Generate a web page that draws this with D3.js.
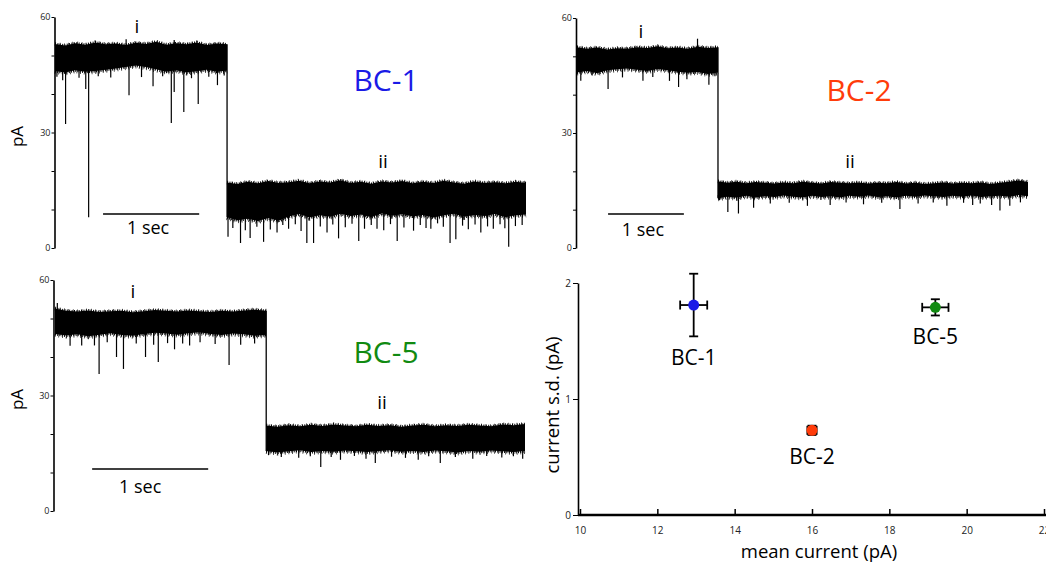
<!DOCTYPE html>
<html>
<head>
<meta charset="utf-8">
<script src="https://cdn.jsdelivr.net/npm/d3@7/dist/d3.min.js"></script>
<style>
  body { margin: 0; background: #fff; }
  svg { display: block; font-family: "Open Sans", sans-serif; }
</style>
</head>
<body>
<svg width="1046" height="563"></svg>
<script>
const svg_width = 1046;
const svg_height = 563;

// y ticks of the current traces (pA)
const pa_ticks = [0, 10, 20, 30, 40, 50, 60];
const pa_labels = [0, 30, 60];

// BC-1 trace, times in sec, currents in pA (upper / lower edge of the noise band)
const bc1_duration = 4.9;
const bc1_step = 1.79;
const bc1_high_i = [53.0, 52.6, 53.2, 52.8, 53.4, 52.9, 53.1, 52.7, 53.3, 53.0, 53.6, 52.8, 53.2, 52.9, 53.4, 52.7, 53.1, 52.9];
const bc1_low_i = [46.0, 45.6, 46.2, 45.8, 46.0, 46.3, 46.6, 47.0, 47.4, 47.0, 46.4, 45.8, 46.2, 45.6, 45.9, 46.3, 45.8, 46.1];
const bc1_high_ii = [17.0, 16.6, 17.2, 16.8, 17.4, 16.9, 17.1, 17.5, 16.8, 17.3, 17.0, 17.6, 16.9, 17.2, 16.7, 17.3, 17.0, 17.4, 16.8, 17.2, 16.9, 17.5, 17.0, 16.7, 17.3, 16.9, 17.1, 16.8, 17.2, 16.9];
const bc1_low_ii = [8.0, 7.2, 7.6, 7.0, 7.8, 7.1, 8.2, 8.8, 7.9, 8.5, 8.1, 8.9, 8.3, 8.7, 8.0, 9.0, 8.4, 8.8, 8.2, 8.6, 7.9, 8.5, 8.9, 8.1, 8.6, 8.3, 8.8, 8.0, 8.5, 8.7];
const bc1_spikes = [[0.02, 44.5], [0.08, 43.6], [0.11, 32.2], [0.25, 44.2], [0.32, 41.3], [0.35, 8.0], [0.45, 44.6], [0.58, 44.3], [0.77, 39.7], [0.9, 44.4], [1.02, 42.0], [1.12, 44.6], [1.21, 32.5], [1.24, 40.5], [1.34, 35.3], [1.42, 44.1], [1.49, 37.4], [1.6, 44.5], [1.69, 42.3], [1.76, 44.8],
  [1.80, 2.9], [1.85, 5.2], [1.93, 1.3], [1.98, 4.6], [2.03, 2.6], [2.1, 5.5], [2.17, 1.6], [2.24, 4.8], [2.31, 4.0], [2.37, 6.0], [2.43, 5.0], [2.5, 6.2], [2.56, 4.4], [2.62, 1.3], [2.69, 1.3], [2.76, 5.6], [2.83, 4.0], [2.89, 6.1], [2.95, 2.5], [3.02, 5.4], [3.09, 6.3], [3.16, 1.8], [3.22, 5.0], [3.29, 6.0], [3.35, 5.0], [3.42, 4.6], [3.49, 6.2], [3.56, 1.8], [3.63, 5.3], [3.73, 4.5], [3.8, 6.0], [3.86, 5.2], [3.91, 5.0], [3.98, 6.4], [4.04, 5.5], [4.11, 1.3], [4.17, 2.3], [4.24, 5.8], [4.3, 4.9], [4.37, 6.1], [4.43, 4.0], [4.5, 5.6], [4.56, 5.0], [4.63, 6.2], [4.68, 5.1], [4.72, 0.3], [4.79, 5.7], [4.86, 6.0]];
const bc1_peaks = [[0.74, 54.2], [1.24, 54.0]];

// BC-2 trace
const bc2_duration = 5.95;
const bc2_step = 1.86;
const bc2_high_i = [52.4, 52.0, 52.3, 51.8, 52.1, 52.0, 52.4, 52.2, 52.6, 52.1, 52.3, 52.0, 52.5, 52.2, 52.4];
const bc2_low_i = [45.8, 46.2, 45.6, 46.4, 46.6, 46.8, 46.5, 46.2, 46.7, 46.4, 46.0, 45.7, 45.9, 45.4, 45.8];
const bc2_high_ii = [17.4, 17.0, 17.3, 16.9, 17.2, 17.0, 16.8, 17.1, 16.9, 17.3, 17.0, 16.8, 17.2, 17.0, 16.9, 17.1, 16.8, 17.0, 16.9, 17.2, 16.8, 17.0, 16.7, 16.9, 17.1, 16.8, 17.0, 16.9, 17.1, 16.7, 17.0, 17.3, 17.6, 17.2];
const bc2_low_ii = [13.0, 13.4, 13.1, 13.6, 13.2, 13.5, 13.3, 13.7, 13.4, 13.2, 13.6, 13.3, 13.5, 13.2, 13.6, 13.4, 13.7, 13.3, 13.5, 13.2, 13.6, 13.4, 13.7, 13.5, 13.3, 13.6, 13.4, 13.7, 13.3, 13.5, 13.6, 13.4, 13.8, 13.5];
const bc2_spikes = [[0.05, 43.6], [0.2, 45.0], [0.41, 41.5], [0.6, 44.5], [0.87, 43.6], [1.0, 44.6], [1.22, 43.6], [1.34, 42.0], [1.45, 44.0], [1.74, 42.6], [1.82, 44.8],
  [1.88, 12.5], [1.99, 9.4], [2.13, 9.0], [2.33, 10.5], [2.55, 11.6], [2.8, 11.8], [3.04, 11.0], [3.34, 11.2], [3.55, 11.9], [3.78, 11.4], [4.02, 11.8], [4.26, 10.2], [4.5, 11.6], [4.7, 11.9], [4.88, 11.0], [5.1, 11.8], [5.22, 11.2], [5.32, 11.6], [5.47, 11.2], [5.58, 9.8], [5.71, 11.0], [5.85, 11.9]];
const bc2_peaks = [[1.59, 54.6]];

// BC-5 trace
const bc5_duration = 4.05;
const bc5_step = 1.82;
const bc5_high_i = [52.6, 52.0, 51.8, 52.1, 51.7, 51.9, 52.0, 51.6, 51.9, 52.2, 52.0, 51.8, 52.1, 51.9, 51.7, 52.0, 51.8, 52.1, 52.3, 52.0];
const bc5_low_i = [46.0, 45.6, 45.9, 45.4, 45.8, 46.2, 45.7, 45.5, 46.0, 46.3, 46.1, 45.8, 46.2, 46.4, 46.0, 45.7, 46.1, 45.9, 45.5, 45.8];
const bc5_high_ii = [22.2, 21.9, 22.3, 22.0, 22.4, 22.1, 22.5, 22.2, 22.0, 22.4, 22.1, 22.3, 21.9, 22.2, 22.4, 22.0, 22.3, 22.1, 22.4, 22.2, 22.0, 22.5, 22.3, 22.6];
const bc5_low_ii = [15.6, 15.2, 15.5, 15.8, 15.3, 15.6, 15.4, 15.7, 15.5, 15.3, 15.6, 15.8, 15.4, 15.6, 15.3, 15.7, 15.5, 15.2, 15.6, 15.4, 15.7, 15.5, 15.3, 15.6];
const bc5_spikes = [[0.13, 42.9], [0.23, 43.0], [0.34, 43.0], [0.38, 35.6], [0.45, 43.8], [0.53, 40.0], [0.59, 36.9], [0.70, 43.5], [0.78, 40.0], [0.85, 43.2], [0.89, 38.7], [0.97, 43.6], [1.03, 42.0], [1.1, 43.5], [1.16, 43.0], [1.25, 43.8], [1.38, 43.4], [1.5, 37.9], [1.6, 43.2], [1.72, 43.5],
  [1.84, 14.5], [1.95, 14.0], [2.1, 13.8], [2.2, 14.2], [2.29, 11.4], [2.38, 14.0], [2.46, 13.3], [2.58, 14.3], [2.68, 13.6], [2.76, 12.5], [2.9, 14.1], [3.02, 13.8], [3.13, 13.3], [3.22, 14.2], [3.32, 12.5], [3.45, 14.0], [3.6, 13.6], [3.72, 14.3], [3.85, 13.9], [3.95, 14.2], [4.03, 13.6]];
const bc5_peaks = [[0.02, 54.0]];

// summary: mean current vs current s.d.
const cell_names = ["BC-1", "BC-2", "BC-5"];
const cell_colors = ["#1a1ae6", "#ff3c0a", "#118a11"];
const mean_current = [12.94, 16.0, 19.19];
const mean_current_err = [0.35, 0.12, 0.34];
const current_sd = [1.81, 0.73, 1.79];
const current_sd_err = [0.27, 0.04, 0.07];
const mean_ticks = [10, 12, 14, 16, 18, 20, 22];
const sd_ticks = [0, 1, 2];

const svg = d3.select("svg");

function makeSegment(high, low, t0, t1) {
  return high.map((h, k) => ({ t: t0 + (t1 - t0) * k / (high.length - 1), hi: h, lo: low[k] }));
}

// layout of the three trace panels
const panels = [
  { trace: { duration: bc1_duration, step: bc1_step, hi_i: bc1_high_i, lo_i: bc1_low_i, hi_ii: bc1_high_ii, lo_ii: bc1_low_ii, spikes: bc1_spikes, peaks: bc1_peaks },
    name: cell_names[0], color: cell_colors[0], axis_x: 54.5, x0: 55, x1: 526, top: 17, bottom: 248,
    bar_y: 214, bar_start: 0.5, sec_dx: -3, sec_y: 234, pa: true, i_pos: [137, 33], ii_pos: [383, 168], name_pos: [386, 91] },
  { trace: { duration: bc2_duration, step: bc2_step, hi_i: bc2_high_i, lo_i: bc2_low_i, hi_ii: bc2_high_ii, lo_ii: bc2_low_ii, spikes: bc2_spikes, peaks: bc2_peaks },
    name: cell_names[1], color: cell_colors[1], axis_x: 576, x0: 577, x1: 1028, top: 18, bottom: 248,
    bar_y: 214, bar_start: 0.41, sec_dx: -3, sec_y: 236, pa: false, i_pos: [641, 38], ii_pos: [850, 168], name_pos: [859, 101] },
  { trace: { duration: bc5_duration, step: bc5_step, hi_i: bc5_high_i, lo_i: bc5_low_i, hi_ii: bc5_high_ii, lo_ii: bc5_low_ii, spikes: bc5_spikes, peaks: bc5_peaks },
    name: cell_names[2], color: cell_colors[2], axis_x: 53.5, x0: 55, x1: 525, top: 280, bottom: 511,
    bar_y: 469, bar_start: 0.32, sec_dx: -10, sec_y: 493, pa: true, i_pos: [133, 298], ii_pos: [382, 409], name_pos: [386, 363] }
];

panels.forEach(p => drawTrace(p));
drawSummary();

function drawTrace(p) {
  const tr = p.trace;
  const g = svg.append("g");
  const x = d3.scaleLinear().domain([0, tr.duration]).range([p.x0, p.x1]);
  const y = d3.scaleLinear().domain([0, 60]).range([p.bottom, p.top]);

  const seg_i = makeSegment(tr.hi_i, tr.lo_i, 0, tr.step);
  const seg_ii = makeSegment(tr.hi_ii, tr.lo_ii, tr.step, tr.duration);

  const band = d3.area().x(d => x(d.t)).y0(d => y(d.lo)).y1(d => y(d.hi));
  g.selectAll(".band").data([seg_i, seg_ii]).join("path")
    .attr("class", "band")
    .attr("d", band)
    .attr("fill", "#000");

  // hairy edges of the noise band: short dashes along the envelope
  const top_edge = d3.line().x(d => x(d.t)).y(d => y(d.hi));
  const bottom_edge = d3.line().x(d => x(d.t)).y(d => y(d.lo));
  [seg_i, seg_ii].forEach(seg => {
    g.append("path").attr("d", top_edge(seg)).attr("fill", "none")
      .attr("stroke", "#000").attr("stroke-width", 2.6).attr("stroke-dasharray", "1 1.4");
    g.append("path").attr("d", top_edge(seg)).attr("fill", "none")
      .attr("stroke", "#000").attr("stroke-width", 4).attr("stroke-dasharray", "0.8 3.7").attr("opacity", 0.8);
    g.append("path").attr("d", bottom_edge(seg)).attr("fill", "none")
      .attr("stroke", "#000").attr("stroke-width", 3.2).attr("stroke-dasharray", "1 1.3");
    g.append("path").attr("d", bottom_edge(seg)).attr("fill", "none")
      .attr("stroke", "#000").attr("stroke-width", 6).attr("stroke-dasharray", "0.8 2.9").attr("opacity", 0.85);
  });

  // the step from state i to state ii
  g.append("line")
    .attr("x1", x(tr.step)).attr("x2", x(tr.step))
    .attr("y1", y(tr.hi_i[tr.hi_i.length - 1])).attr("y2", y(tr.lo_ii[0]))
    .attr("stroke", "#000").attr("stroke-width", 1.3);

  function baseAt(t) {
    const seg = t < tr.step ? seg_i : seg_ii;
    const k = d3.minIndex(seg, d => Math.abs(d.t - t));
    return seg[k];
  }

  g.selectAll(".spike").data(tr.spikes).join("line")
    .attr("class", "spike")
    .attr("x1", d => x(d[0])).attr("x2", d => x(d[0]))
    .attr("y1", d => y(baseAt(d[0]).lo + 1)).attr("y2", d => y(d[1]))
    .attr("stroke", "#000").attr("stroke-width", 1.2);

  g.selectAll(".peak").data(tr.peaks).join("line")
    .attr("class", "peak")
    .attr("x1", d => x(d[0])).attr("x2", d => x(d[0]))
    .attr("y1", d => y(baseAt(d[0]).hi - 1)).attr("y2", d => y(d[1]))
    .attr("stroke", "#000").attr("stroke-width", 1.2);

  // y axis
  const axis = d3.axisLeft(y).tickValues(pa_ticks).tickSizeInner(3).tickSizeOuter(0).tickPadding(1)
    .tickFormat(d => pa_labels.includes(d) ? d : "");
  const ag = g.append("g").attr("transform", `translate(${p.axis_x},0)`).call(axis);
  ag.select(".domain").attr("stroke-width", 1.6);
  ag.selectAll(".tick line").attr("stroke-width", 1);
  ag.selectAll("text").attr("font-size", 9).attr("fill", "#222").attr("font-family", "Open Sans, sans-serif");

  // 1 sec scale bar
  g.append("line")
    .attr("x1", x(p.bar_start)).attr("x2", x(p.bar_start + 1))
    .attr("y1", p.bar_y).attr("y2", p.bar_y)
    .attr("stroke", "#000").attr("stroke-width", 1.3);
  g.append("text")
    .attr("x", (x(p.bar_start) + x(p.bar_start + 1)) / 2 + p.sec_dx).attr("y", p.sec_y)
    .attr("text-anchor", "middle").attr("font-size", 18).attr("fill", "#000").text("1 sec");

  g.append("text").attr("x", p.i_pos[0]).attr("y", p.i_pos[1])
    .attr("text-anchor", "middle").attr("font-size", 19).attr("fill", "#000").text("i");
  g.append("text").attr("x", p.ii_pos[0]).attr("y", p.ii_pos[1])
    .attr("text-anchor", "middle").attr("font-size", 19).attr("fill", "#000").text("ii");

  g.append("text").attr("x", p.name_pos[0]).attr("y", p.name_pos[1])
    .attr("text-anchor", "middle").attr("font-size", 30).attr("fill", p.color).text(p.name);

  if (p.pa) {
    g.append("text")
      .attr("transform", `translate(23,${(p.top + p.bottom) / 2 + 4}) rotate(-90)`)
      .attr("text-anchor", "middle").attr("font-size", 17).attr("fill", "#000").text("pA");
  }
}

function drawSummary() {
  const g = svg.append("g");
  const x = d3.scaleLinear().domain([10, 22]).range([580, 1044]);
  const y = d3.scaleLinear().domain([0, 2]).range([515, 283]);
  const axis_x = 578;

  const xa = g.append("g").attr("transform", `translate(0,${y(0)})`)
    .call(d3.axisBottom(x).tickValues(mean_ticks).tickFormat(d3.format("d"))
      .tickSizeInner(-6).tickSizeOuter(0).tickPadding(12));
  xa.select(".domain").remove();
  xa.selectAll(".tick line").attr("stroke-width", 1.5);
  xa.selectAll("text").attr("font-size", 10).attr("fill", "#222").attr("font-family", "Open Sans, sans-serif");
  g.append("line")
    .attr("x1", axis_x).attr("x2", svg_width)
    .attr("y1", y(0)).attr("y2", y(0))
    .attr("stroke", "#000").attr("stroke-width", 2.4);

  const ya = g.append("g").attr("transform", `translate(${axis_x},0)`)
    .call(d3.axisLeft(y).tickValues(sd_ticks).tickFormat(d3.format("d"))
      .tickSizeInner(5).tickSizeOuter(0).tickPadding(2));
  ya.select(".domain").attr("stroke-width", 1.6);
  ya.selectAll("text").attr("font-size", 10).attr("fill", "#222").attr("font-family", "Open Sans, sans-serif");

  const rows = cell_names.map((n, k) => ({ name: n, color: cell_colors[k], m: mean_current[k], me: mean_current_err[k], s: current_sd[k], se: current_sd_err[k] }));
  const cap = 4.5;

  const eb = g.selectAll(".err").data(rows).join("g").attr("class", "err")
    .attr("stroke", "#000").attr("stroke-width", 1.8);
  eb.append("line").attr("x1", d => x(d.m - d.me)).attr("x2", d => x(d.m + d.me)).attr("y1", d => y(d.s)).attr("y2", d => y(d.s));
  eb.append("line").attr("x1", d => x(d.m - d.me)).attr("x2", d => x(d.m - d.me)).attr("y1", d => y(d.s) - cap).attr("y2", d => y(d.s) + cap);
  eb.append("line").attr("x1", d => x(d.m + d.me)).attr("x2", d => x(d.m + d.me)).attr("y1", d => y(d.s) - cap).attr("y2", d => y(d.s) + cap);
  eb.append("line").attr("x1", d => x(d.m)).attr("x2", d => x(d.m)).attr("y1", d => y(d.s - d.se)).attr("y2", d => y(d.s + d.se));
  eb.append("line").attr("x1", d => x(d.m) - cap).attr("x2", d => x(d.m) + cap).attr("y1", d => y(d.s - d.se)).attr("y2", d => y(d.s - d.se));
  eb.append("line").attr("x1", d => x(d.m) - cap).attr("x2", d => x(d.m) + cap).attr("y1", d => y(d.s + d.se)).attr("y2", d => y(d.s + d.se));

  g.selectAll(".dot").data(rows).join("circle").attr("class", "dot")
    .attr("cx", d => x(d.m)).attr("cy", d => y(d.s)).attr("r", 5.5)
    .attr("fill", d => d.color);

  g.selectAll(".lab").data(rows).join("text").attr("class", "lab")
    .attr("x", d => x(d.m)).attr("y", d => y(d.s - d.se) + 29)
    .attr("text-anchor", "middle").attr("font-size", 21).attr("fill", "#000").text(d => d.name);

  g.append("text").attr("x", 819).attr("y", 558)
    .attr("text-anchor", "middle").attr("font-size", 18.5).attr("fill", "#000").text("mean current (pA)");
  g.append("text").attr("transform", `translate(559,405) rotate(-90)`)
    .attr("text-anchor", "middle").attr("font-size", 18.5).attr("fill", "#000").text("current s.d. (pA)");
}
</script>
</body>
</html>
